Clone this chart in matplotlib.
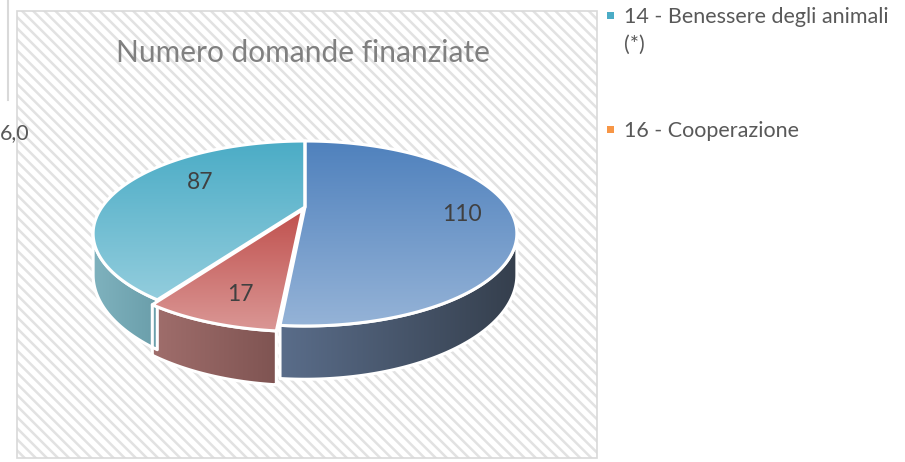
import numpy as np
import matplotlib.pyplot as plt
from matplotlib.patches import Polygon, Rectangle
from matplotlib.colors import LinearSegmentedColormap

plt.rcParams['font.family'] = ['Lato', 'DejaVu Sans']
plt.rcParams['hatch.linewidth'] = 1.8

# data
title = "Numero domande finanziate"
slice_values = [110, 17, 87]
slice_explode = [0.0, 0.035, 0.0]
# top face gradient (top -> bottom), side gradient (left -> right)
top_colors = [("#4F81BD", "#95B3D7"), ("#C0504D", "#DA9795"), ("#4BACC6", "#93CDDD")]
side_colors = [("#5A6D8A", "#353F4D"), ("#A06E6C", "#7F5452"), ("#7FB2BE", "#6A9EAA")]
legend_lines = [["14 - Benessere degli animali", "(*)"], ["16 - Cooperazione"]]
legend_colors = ["#4BACC6", "#F79646"]

# label placement: radius (fraction) and turn from the slice middle (deg)
label_radius = [0.76, 0.80, 0.65]
label_turn = [4.4, -2.4, 12.7]

# pie geometry in pixels (perspective ellipse)
cx, cy = 305, 207
rx, ry = 203, 84.9
k = 0.2865
depth = 38


def proj(X, Y, down=0.0):
    s = 1 + k * Y
    return cx + rx * X / s, cy - ry * Y / s + down / s


def grad_fill(ax, pts, c1, c2, vertical, z):
    patch = Polygon(pts, closed=True, facecolor='none', edgecolor='none')
    ax.add_patch(patch)
    cmap = LinearSegmentedColormap.from_list('g', [c1, c2])
    if vertical:
        g = np.linspace(0, 1, 256).reshape(-1, 1)
    else:
        g = np.linspace(0, 1, 256).reshape(1, -1)
    xs, ys = pts[:, 0], pts[:, 1]
    im = ax.imshow(g, cmap=cmap, extent=(xs.min(), xs.max(), ys.max(), ys.min()),
                   aspect='auto', origin='upper', zorder=z, interpolation='bilinear')
    im.set_clip_path(patch)
    ax.add_patch(Polygon(pts, closed=True, facecolor='none', edgecolor='white',
                         lw=2.2, joinstyle='round', zorder=z + 0.5))


fig = plt.figure(figsize=(9.05, 4.62), dpi=100)
ax = fig.add_axes([0, 0, 1, 1])
ax.set_xlim(0, 905)
ax.set_ylim(462, 0)
ax.axis('off')

# chart area with diagonal stripes
ax.add_patch(Rectangle((17, 11), 580, 447, facecolor='white', edgecolor='#E2E2E2',
                       hatch='\\\\\\', lw=0, zorder=0))
ax.add_patch(Rectangle((17, 11), 580, 447, facecolor='none', edgecolor='#D9D9D9',
                       lw=1.2, zorder=0.5))

# leftovers of a neighbouring chart
ax.plot([8, 8], [0, 100], color='#D9D9D9', lw=1.5, zorder=1)
ax.text(0, 139, "6,0", fontsize=15.5, color='#595959', va='baseline', ha='left')

ax.text(303, 62, title, fontsize=21.5, color='#808080', ha='center', va='baseline')

total = sum(slice_values)
t_vis0, t_vis1 = np.arccos(-k), 2 * np.pi - np.arccos(-k)
start = 0.0
for i, v in enumerate(slice_values):
    span = 2 * np.pi * v / total
    a, b = start, start + span
    mid = (a + b) / 2
    ox, oy = slice_explode[i] * np.sin(mid), slice_explode[i] * np.cos(mid)

    # visible outer wall
    lo, hi = max(a, t_vis0), min(b, t_vis1)
    if hi > lo:
        t = np.linspace(lo, hi, 80)
        X, Y = ox + np.sin(t), oy + np.cos(t)
        tx, ty = proj(X, Y)
        bx, by = proj(X, Y, depth)
        pts = np.column_stack([np.r_[tx, bx[::-1]], np.r_[ty, by[::-1]]])
        grad_fill(ax, pts, side_colors[i][0], side_colors[i][1], False, 2)

    # top face
    t = np.linspace(a, b, 120)
    X, Y = np.r_[ox, ox + np.sin(t)], np.r_[oy, oy + np.cos(t)]
    px, py = proj(X, Y)
    pts = np.column_stack([px, py])
    grad_fill(ax, pts, top_colors[i][0], top_colors[i][1], True, 4)

    lr = label_radius[i]
    la = mid + np.radians(label_turn[i])
    lx, ly = proj(ox + lr * np.sin(la), oy + lr * np.cos(la))
    ax.text(lx, ly, str(v), fontsize=16.5, color='#404040', ha='center', va='center', zorder=6)
    start = b

# legend (outside the chart box)
legend_y = [23, 137]
for lines, col, y in zip(legend_lines, legend_colors, legend_y):
    ax.add_patch(Rectangle((607, y - 11), 7, 7, facecolor=col, edgecolor='none'))
    for j, line in enumerate(lines):
        ax.text(624, y + 28 * j, line, fontsize=15.5, color='#595959', ha='left',
                va='baseline')

ax.set_xlim(0, 905)
ax.set_ylim(462, 0)
fig.savefig('out.png', dpi=100)
